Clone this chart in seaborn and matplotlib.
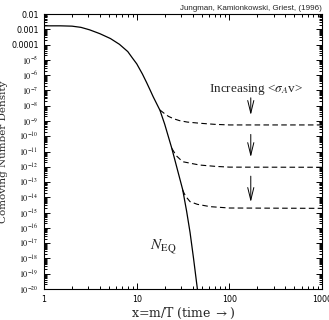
import numpy as np
import pandas as pd
import matplotlib
matplotlib.use("Agg")
import matplotlib.pyplot as plt
import matplotlib.ticker as mticker
import seaborn as sns

# equilibrium curve N_EQ
x_eq = [1.0, 1.5, 2.0, 2.5, 3.1, 4.0, 5.2, 6.5, 8.0, 9.0, 10.0, 11.5, 12.8, 14.0,
        15.0, 17.8, 20.0, 23.9, 27.5, 31.3, 34.5, 37.6, 41.0, 45.1, 45.6]
y_eq = [1.7e-3, 1.7e-3, 1.62e-3, 1.35e-3, 9.3e-4, 5.2e-4, 2.5e-4, 1.05e-4,
        3.5e-5, 1.3e-5, 5.5e-6, 1.2e-6, 3.2e-7, 1.0e-7, 4e-8, 5e-9, 6.3e-10,
        1.6e-11, 6.3e-13, 3.2e-14, 1.26e-15, 5e-17, 1e-18, 1e-20, 6e-21]

# freeze-out branches (dashed)
x_fo1 = [17.8, 20.0, 22.0, 25.0, 29.0, 35.0, 48.0, 70.0, 100.0, 1000.0]
y_fo1 = [5.2e-9, 3.0e-9, 2.0e-9, 1.4e-9, 1.05e-9, 8.5e-10, 7.1e-10, 6.0e-10, 5.5e-10, 5.5e-10]
x_fo2 = [23.9, 25.5, 27.0, 29.5, 32.0, 40.0, 48.0, 70.0, 100.0, 1000.0]
y_fo2 = [1.6e-11, 8.5e-12, 5e-12, 3e-12, 2.1e-12, 1.6e-12, 1.3e-12, 1.07e-12, 9.5e-13, 9.3e-13]
x_fo3 = [31.3, 32.5, 34.0, 37.6, 45.0, 62.0, 100.0, 1000.0]
y_fo3 = [3e-14, 1.8e-14, 1.1e-14, 5.2e-15, 3.5e-15, 2.45e-15, 2e-15, 1.9e-15]

# arrows (x, start, end)
arrow_x = 170
arrow_top = [5e-8, 2e-10, 3.7e-13]
arrow_bot = [1.6e-9, 2.8e-12, 3.2e-15]

y_tick_labels = ["0.01", "0.001", "0.0001"] + [r"$10^{-%d}$" % n for n in range(5, 21)]
x_tick_labels = ["1", "10", "100", "1000"]

sns.set_style("ticks")
plt.rcParams["mathtext.fontset"] = "stix"

fig = plt.figure(figsize=(3.29, 3.2), dpi=100)
ax = fig.add_axes([0.134, 0.097, 0.845, 0.859])

eq = pd.DataFrame({"x": x_eq, "y": y_eq})
sns.lineplot(data=eq, x="x", y="y", ax=ax, color="black", lw=0.9, sort=False)
for xs, ys in [(x_fo1, y_fo1), (x_fo2, y_fo2), (x_fo3, y_fo3)]:
    d = pd.DataFrame({"x": xs, "y": ys})
    sns.lineplot(data=d, x="x", y="y", ax=ax, color="black", lw=0.8,
                 sort=False, dashes=False, linestyle=(0, (5, 3)))

ax.set_xscale("log")
ax.set_yscale("log")
ax.set_xlim(1, 1000)
ax.set_ylim(1e-20, 1e-2)

ax.xaxis.set_major_locator(mticker.FixedLocator([1, 10, 100, 1000]))
ax.xaxis.set_major_formatter(mticker.FixedFormatter(x_tick_labels))
ax.xaxis.set_minor_locator(mticker.LogLocator(base=10, subs=range(2, 10), numticks=50))
ax.xaxis.set_minor_formatter(mticker.NullFormatter())
ax.yaxis.set_major_locator(mticker.FixedLocator([10.0 ** -n for n in range(2, 21)]))
ax.yaxis.set_major_formatter(mticker.FixedFormatter(y_tick_labels))
ax.yaxis.set_minor_locator(mticker.LogLocator(base=10, subs=range(2, 10), numticks=200))
ax.yaxis.set_minor_formatter(mticker.NullFormatter())

ax.tick_params(which="both", direction="in", top=True, right=True, width=0.7, colors="black")
ax.tick_params(which="major", length=4, labelsize=5.8, pad=4)
ax.tick_params(which="minor", length=2)
for lab in ax.get_xticklabels() + ax.get_yticklabels():
    lab.set_fontfamily("DejaVu Sans")
for s in ax.spines.values():
    s.set_linewidth(0.8)
    s.set_color("black")

ax.set_xlabel(r"x=m/T (time $\rightarrow$)", fontsize=9, family="DejaVu Serif", labelpad=2)
ax.set_ylabel("Comoving Number Density", fontsize=7.5, family="DejaVu Serif", labelpad=2)

for xa, yt, yb in zip([arrow_x] * 3, arrow_top, arrow_bot):
    ax.annotate("", xy=(xa, yb), xytext=(xa, yt),
                arrowprops=dict(arrowstyle="->,head_length=0.9,head_width=0.22",
                                color="black", lw=0.7))

ax.text(194, 1.2e-7, r"Increasing <$\sigma_A$v>", ha="center", va="center",
        fontsize=9.5, family="Liberation Serif")
ax.text(13.9, 5.6e-18, r"$N_{\rm EQ}$", ha="left", va="center", fontsize=11)

fig.text(0.979, 0.973, "Jungman, Kamionkowski, Griest, (1996)", ha="right", va="center",
         fontsize=5.8, family="Liberation Sans")

fig.savefig("out.png", dpi=100)
